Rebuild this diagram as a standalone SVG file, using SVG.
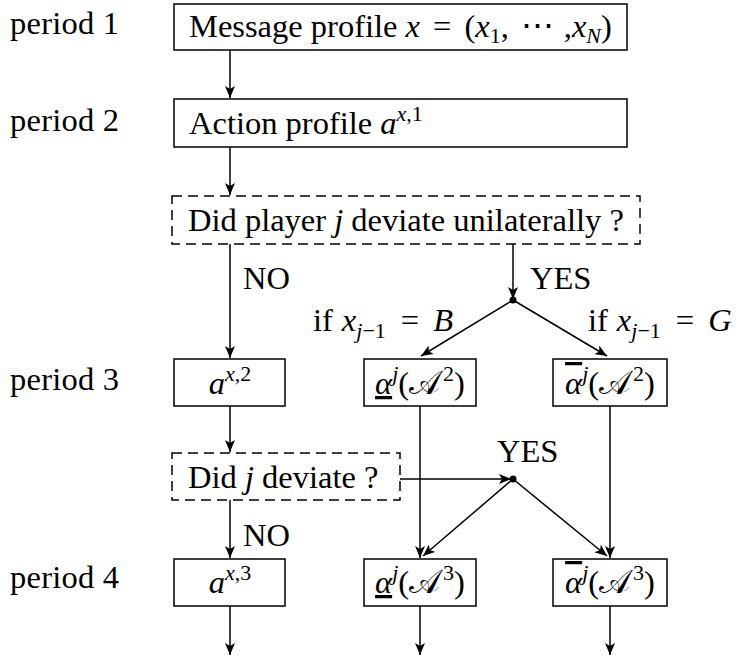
<svg xmlns="http://www.w3.org/2000/svg" width="740" height="657" viewBox="0 0 740 657">
<style>
text{font-family:"Liberation Serif","DejaVu Serif",serif;font-size:32.5px;fill:#000}
.i{font-style:italic}
.s{font-size:22px}
.box{fill:#fff;stroke:#000;stroke-width:1.5}
.dash{fill:#fff;stroke:#000;stroke-width:1.5;stroke-dasharray:10,6}
.c{fill:none;stroke:#000;stroke-width:1.5}
.m{text-anchor:middle}
</style>
<defs>
<marker id="ah" viewBox="0 0 12 10" refX="12" refY="5" markerWidth="12" markerHeight="10" markerUnits="userSpaceOnUse" orient="auto">
<path d="M0,0 L12,5 L0,10 L3,5 Z" fill="#000"/>
</marker>
</defs>

<g id="labels">
<text x="10" y="34" textLength="109">period 1</text>
<text x="10" y="131" textLength="109">period 2</text>
<text x="10" y="390" textLength="109">period 3</text>
<text x="10" y="588" textLength="109">period 4</text>
</g>

<g id="n-message">
<rect class="box" x="174" y="4" width="453" height="46"/>
<text x="189" y="37">Message profile <tspan class="i">x</tspan><tspan dx="13">=</tspan><tspan dx="13">(</tspan><tspan class="i">x</tspan><tspan class="s" dy="6">1</tspan><tspan dy="-6">,</tspan><tspan dx="12">⋯</tspan><tspan dx="10">,</tspan><tspan class="i">x</tspan><tspan class="s i" dy="6">N</tspan><tspan dy="-6">)</tspan></text>
</g>

<g id="n-action">
<rect class="box" x="174" y="99" width="453" height="48"/>
<text x="189" y="134">Action profile <tspan class="i">a</tspan><tspan class="s" dy="-13"><tspan class="i">x</tspan>,1</tspan></text>
</g>

<g id="n-dev1">
<rect class="dash" x="172" y="196" width="468" height="48"/>
<text x="188" y="231">Did player <tspan class="i">j</tspan> deviate unilaterally ?</text>
</g>

<g id="n-a2">
<rect class="box" x="174" y="359" width="111" height="47"/>
<text class="m" x="230" y="394"><tspan class="i">a</tspan><tspan class="s" dy="-13"><tspan class="i">x</tspan>,2</tspan></text>
</g>

<g id="n-alow2">
<rect class="box" x="364" y="359" width="112" height="47"/>
<text class="m" x="420" y="394"><tspan class="i" text-decoration="underline">α</tspan><tspan class="s i" dy="-13">j</tspan><tspan dy="13">(𝒜</tspan><tspan class="s" dx="3" dy="-13">2</tspan><tspan dy="13">)</tspan></text>
</g>

<g id="n-ahigh2">
<rect class="box" x="553" y="359" width="114" height="47"/>
<text class="m" x="610" y="394"><tspan class="i" text-decoration="overline">α</tspan><tspan class="s i" dy="-13">j</tspan><tspan dy="13">(𝒜</tspan><tspan class="s" dx="3" dy="-13">2</tspan><tspan dy="13">)</tspan></text>
</g>

<g id="n-dev2">
<rect class="dash" x="172" y="453" width="228" height="47"/>
<text x="188" y="488">Did <tspan class="i">j</tspan> deviate ?</text>
</g>

<g id="n-a3">
<rect class="box" x="174" y="559" width="111" height="47"/>
<text class="m" x="230" y="593"><tspan class="i">a</tspan><tspan class="s" dy="-13"><tspan class="i">x</tspan>,3</tspan></text>
</g>

<g id="n-alow3">
<rect class="box" x="364" y="559" width="112" height="47"/>
<text class="m" x="420" y="593"><tspan class="i" text-decoration="underline">α</tspan><tspan class="s i" dy="-13">j</tspan><tspan dy="13">(𝒜</tspan><tspan class="s" dx="3" dy="-13">3</tspan><tspan dy="13">)</tspan></text>
</g>

<g id="n-ahigh3">
<rect class="box" x="553" y="559" width="114" height="47"/>
<text class="m" x="610" y="593"><tspan class="i" text-decoration="overline">α</tspan><tspan class="s i" dy="-13">j</tspan><tspan dy="13">(𝒜</tspan><tspan class="s" dx="3" dy="-13">3</tspan><tspan dy="13">)</tspan></text>
</g>

<g id="connectors">
<line class="c" x1="230" y1="50" x2="230" y2="98" marker-end="url(#ah)"/>
<line class="c" x1="230" y1="147" x2="230" y2="195" marker-end="url(#ah)"/>
<line class="c" x1="230" y1="244" x2="230" y2="358" marker-end="url(#ah)"/>
<line class="c" x1="513" y1="244" x2="513" y2="299" marker-end="url(#ah)"/>
<circle cx="513" cy="300" r="3.5" fill="#000"/>
<line class="c" x1="513" y1="300" x2="421" y2="356" marker-end="url(#ah)"/>
<line class="c" x1="513" y1="300" x2="607" y2="356" marker-end="url(#ah)"/>
<line class="c" x1="230" y1="406" x2="230" y2="452" marker-end="url(#ah)"/>
<line class="c" x1="400" y1="479" x2="511" y2="479" marker-end="url(#ah)"/>
<circle cx="513" cy="479" r="3.5" fill="#000"/>
<line class="c" x1="420" y1="406" x2="420" y2="558" marker-end="url(#ah)"/>
<line class="c" x1="610" y1="406" x2="610" y2="558" marker-end="url(#ah)"/>
<line class="c" x1="513" y1="479" x2="423" y2="556" marker-end="url(#ah)"/>
<line class="c" x1="513" y1="479" x2="607" y2="556" marker-end="url(#ah)"/>
<line class="c" x1="230" y1="500" x2="230" y2="558" marker-end="url(#ah)"/>
<line class="c" x1="230" y1="606" x2="230" y2="655" marker-end="url(#ah)"/>
<line class="c" x1="420" y1="606" x2="420" y2="655" marker-end="url(#ah)"/>
<line class="c" x1="610" y1="606" x2="610" y2="655" marker-end="url(#ah)"/>
<text x="243" y="289">NO</text>
<text x="530" y="289">YES</text>
<text x="313" y="331">if<tspan class="i" dx="9">x</tspan><tspan class="s" dy="7"><tspan class="i">j</tspan>−1</tspan><tspan dx="15" dy="-7">=</tspan><tspan class="i" dx="14">B</tspan></text>
<text x="588" y="331">if<tspan class="i" dx="9">x</tspan><tspan class="s" dy="7"><tspan class="i">j</tspan>−1</tspan><tspan dx="15" dy="-7">=</tspan><tspan class="i" dx="14">G</tspan></text>
<text x="497" y="462">YES</text>
<text x="243" y="546">NO</text>
</g>
</svg>
